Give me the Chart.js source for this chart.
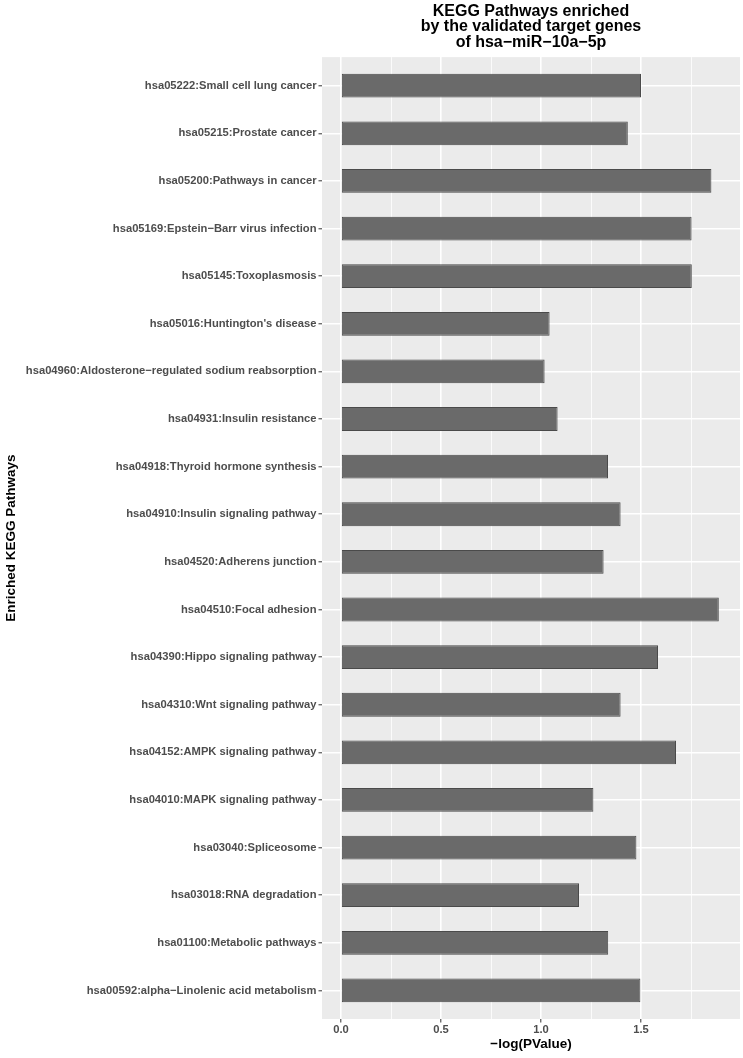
<!DOCTYPE html>
<html>
<head>
<meta charset="utf-8">
<title>KEGG Pathways enriched by the validated target genes of hsa-miR-10a-5p</title>
<script src="https://cdn.jsdelivr.net/npm/chart.js@4/dist/chart.umd.min.js"></script>
<style>
  html, body { margin: 0; padding: 0; background: #ffffff; }
  #wrap { width: 743px; height: 1058px; }
</style>
</head>
<body>
<div id="wrap"><canvas id="keggChart"></canvas></div>
<script>
// Vías KEGG, de arriba hacia abajo
const pathways = [
  'hsa05222:Small cell lung cancer',
  'hsa05215:Prostate cancer',
  'hsa05200:Pathways in cancer',
  'hsa05169:Epstein\u2212Barr virus infection',
  'hsa05145:Toxoplasmosis',
  "hsa05016:Huntington's disease",
  'hsa04960:Aldosterone\u2212regulated sodium reabsorption',
  'hsa04931:Insulin resistance',
  'hsa04918:Thyroid hormone synthesis',
  'hsa04910:Insulin signaling pathway',
  'hsa04520:Adherens junction',
  'hsa04510:Focal adhesion',
  'hsa04390:Hippo signaling pathway',
  'hsa04310:Wnt signaling pathway',
  'hsa04152:AMPK signaling pathway',
  'hsa04010:MAPK signaling pathway',
  'hsa03040:Spliceosome',
  'hsa03018:RNA degradation',
  'hsa01100:Metabolic pathways',
  'hsa00592:alpha\u2212Linolenic acid metabolism'
];

// -log(PValue)
const negLogP = [
  1.50, 1.434, 1.852, 1.753, 1.754, 1.043, 1.018, 1.083, 1.335, 1.398,
  1.313, 1.889, 1.585, 1.398, 1.675, 1.262, 1.477, 1.190, 1.336, 1.497
];

// Marcas del eje X
const xMajorTicks = [0, 0.5, 1.0, 1.5];
const xMinorTicks = [0.25, 0.75, 1.25, 1.75];
const xMin = -0.095;
const xMax = 1.995;

const TICK_TEXT = '#4d4d4d';
const TICK_MARK = '#333333';
const FONT = "'Liberation Sans', Arial, Helvetica, sans-serif";

// Fondo gris del panel (estilo ggplot)
const panelBackground = {
  id: 'panelBackground',
  beforeDraw(chart) {
    const { ctx, chartArea } = chart;
    ctx.save();
    ctx.fillStyle = '#ebebeb';
    ctx.fillRect(chartArea.left, chartArea.top, chartArea.right - chartArea.left, chartArea.bottom - chartArea.top);
    ctx.restore();
  }
};

const isMajor = v => xMajorTicks.some(t => Math.abs(t - v) < 1e-9);

const ctx = document.getElementById('keggChart').getContext('2d');
const keggChart = new Chart(ctx, {
  type: 'bar',
  data: {
    datasets: [{
      label: '-log(PValue)',
      data: negLogP.map((v, i) => ({ x: v, y: i })),
      backgroundColor: '#6a6a6a',
      borderColor: '#4a4a4a',
      borderWidth: 1,
      borderSkipped: false,
      categoryPercentage: 1,
      barPercentage: 0.5
    }]
  },
  plugins: [panelBackground],
  options: {
    indexAxis: 'y',
    responsive: true,
    maintainAspectRatio: false,
    animation: false,
    layout: { padding: { left: 0, right: 3, top: 0, bottom: 0 } },
    plugins: {
      legend: { display: false },
      tooltip: { enabled: false },
      title: {
        display: true,
        fullSize: false,
        text: ['KEGG Pathways enriched', 'by the validated target genes', 'of hsa\u2212miR\u221210a\u22125p'],
        color: '#000000',
        font: { family: FONT, size: 16, weight: 'bold', lineHeight: 0.94 },
        padding: { top: 4.5, bottom: 7.5 }
      }
    },
    scales: {
      x: {
        type: 'linear',
        min: xMin,
        max: xMax,
        offset: false,
        afterBuildTicks(scale) {
          scale.ticks = xMajorTicks.concat(xMinorTicks).sort((a, b) => a - b).map(v => ({ value: v }));
        },
        afterFit(scale) { scale.height = 39; },
        border: { display: false },
        grid: {
          offset: false,
          color: '#ffffff',
          lineWidth: c => (isMajor(c.tick.value) ? 1.6 : 0.8),
          tickColor: c => (isMajor(c.tick.value) ? TICK_MARK : 'rgba(0,0,0,0)'),
          tickWidth: 1,
          tickLength: 3.5
        },
        ticks: {
          color: TICK_TEXT,
          padding: 1,
          maxRotation: 0,
          autoSkip: false,
          font: { family: FONT, size: 11.2, weight: 'bold' },
          callback: v => (isMajor(v) ? v.toFixed(1) : '')
        },
        title: {
          display: true,
          text: '\u2212log(PValue)',
          color: '#000000',
          font: { family: FONT, size: 13.5, weight: 'bold' },
          padding: { top: 0, bottom: 6 }
        }
      },
      y: {
        type: 'linear',
        reverse: true,
        offset: false,
        min: -0.6,
        max: pathways.length - 1 + 0.6,
        afterBuildTicks(scale) {
          scale.ticks = pathways.map((p, i) => ({ value: i }));
        },
        afterFit(scale) { scale.width = 322; },
        border: { display: false },
        grid: {
          offset: false,
          color: '#ffffff',
          lineWidth: 1.6,
          tickColor: TICK_MARK,
          tickWidth: 1,
          tickLength: 3.5
        },
        ticks: {
          color: TICK_TEXT,
          padding: 2,
          autoSkip: false,
          font: { family: FONT, size: 11.2, weight: 'bold' },
          callback: v => pathways[v]
        },
        title: {
          display: true,
          text: 'Enriched KEGG Pathways',
          color: '#000000',
          font: { family: FONT, size: 13.5, weight: 'bold' },
          padding: { top: 3, bottom: 0 }
        }
      }
    }
  }
});
</script>
</body>
</html>
